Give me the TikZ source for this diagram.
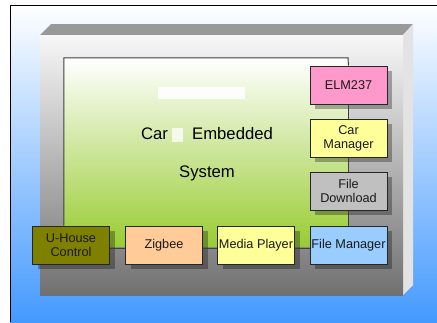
\documentclass[tikz,border=0pt]{standalone}
\usepackage{fontspec}
\setmainfont{Liberation Sans}
\usepackage{tikz}
\usetikzlibrary{shadows}
\definecolor{skyblue}{RGB}{68,153,255}
\definecolor{leafgreen}{RGB}{153,204,51}
\definecolor{pinkbox}{RGB}{255,153,204}
\definecolor{lemonbox}{RGB}{255,255,153}
\definecolor{silverbox}{RGB}{192,192,192}
\definecolor{icebox}{RGB}{153,204,255}
\definecolor{olivebox}{RGB}{128,128,0}
\definecolor{peachbox}{RGB}{255,204,153}
\tikzset{
  modbox/.style={shape=rectangle, draw=black!85, line width=1pt, minimum width=77, minimum height=38,
    inner sep=0pt, align=center, text=black!90, font=\fontsize{12.7}{14}\selectfont,
    drop shadow={shadow xshift=5pt, shadow yshift=-5pt, fill=black, opacity=.3}},
  link/.style={draw=black!75, line width=1pt}
}
\begin{document}
\begin{tikzpicture}[x=1pt,y=-1pt]
     \useasboundingbox (0,0) rectangle (437,322);
     \fill[white] (0,0) rectangle (437,322);
     \shade[top color=white, bottom color=skyblue] (10,5) rectangle (437,322);
     \draw[line width=1pt] (10,322) -- (10,5) -- (437,5);
     % slab
     \fill[black!40] (40,35) -- (51,24) -- (413,24) -- (403,35) -- cycle;
     \fill[black!11] (403,35) -- (413,24) -- (413,285) -- (403,295) -- cycle;
     \shade[top color=white!97!black, middle color=black!14, bottom color=black!56] (40,35) rectangle (403,295);
     \path (206,152) node (panel) [shape=rectangle, minimum width=284, minimum height=188, inner sep=0pt,
             top color=white, middle color={rgb,255:red,212;green,234;blue,184}, bottom color=leafgreen] {};
     \fill[white, opacity=.9] (158,87) rectangle (245,99);
     \path (207,134) node (title) {\fontsize{16.7}{20}\selectfont Car\hspace{1.45em}Embedded}
           (207,173) node (title2) {\fontsize{16.7}{20}\selectfont System};
     \fill[white, opacity=.75] (172,128) rectangle (183,142);
     \path (348.5,85)  node (elm)     [modbox, fill=pinkbox] {ELM237}
           (348.5,138) node (carmgr)  [modbox, fill=lemonbox] {Car\\Manager}
           (348.5,191) node (filedl)  [modbox, fill=silverbox] {File\\Download}
           (348.5,245) node (filemgr) [modbox, fill=icebox] {File Manager}
           (256,245)   node (media)   [modbox, fill=lemonbox] {Media Player}
           (164,245)   node (zigbee)  [modbox, fill=peachbox] {Zigbee}
           (71,245)    node (uhouse)  [modbox, fill=olivebox] {U-House\\Control}
     ;
     \draw[link] (uhouse.north -| panel.west) -- (panel.north west) -- (panel.north east) -- (elm);
     \draw[link] (elm) -- (carmgr);
     \draw[link] (carmgr) -- (filedl);
     \draw[link] (filedl) -- (filemgr);
     \draw[link] ([yshift=-3pt]filemgr.west) -- ([yshift=-3pt]media.east);
     \draw[link] ([yshift=-3pt]media.west) -- ([yshift=-3pt]zigbee.east);
     \draw[link] ([yshift=-3pt]zigbee.west) -- ([yshift=-3pt]uhouse.east);
  \end{tikzpicture}
\end{document}
